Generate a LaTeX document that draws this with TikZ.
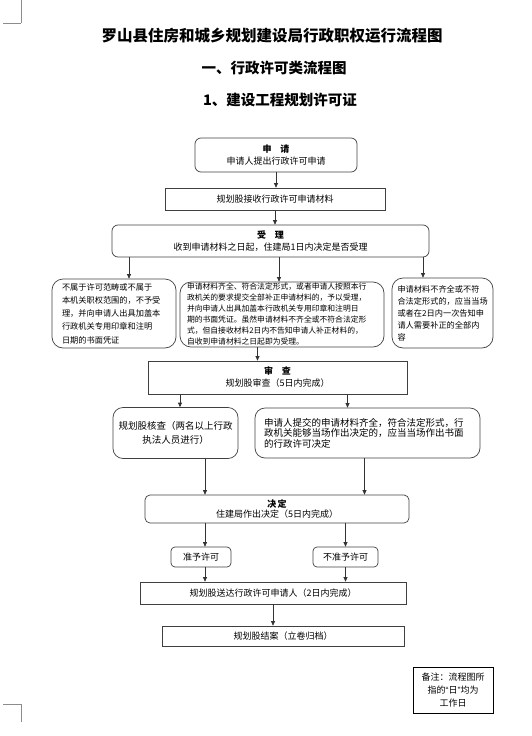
\documentclass[tikz,border=0pt]{standalone}
\usepackage{fontspec}
\setmainfont{Noto Sans CJK SC}
\newfontfamily\latinquote{Liberation Sans}
\usepackage{tikz}
\usetikzlibrary{arrows.meta,positioning}

\begin{document}
\begin{tikzpicture}[x=1pt,y=-1pt,box/.style={draw=black!75,line width=0.7pt,inner sep=0pt,align=center,
font=\fontsize{9}{12}\selectfont},rbox/.style={box,rounded corners=6pt},sbox/.style={box,rounded corners=11pt,align=left,inner sep=0pt},
arr/.style={-{Triangle[length=4.5pt,width=4pt]},line width=0.7pt,draw=black!80},
ttl/.style={font=\fontsize{15.5}{18}\selectfont\bfseries},cropmark/.style={draw=black!45,line width=0.4pt}]
\useasboundingbox (0,0) rectangle (531,736);
% page corner marks
\coordinate (tl) at (21,23);\coordinate (bl) at (21,704);
\draw[cropmark] (tl) -- ++(0,-23) (tl) -- ++(-18,0);
\draw[cropmark] (bl) -- ++(0,18) (bl) -- ++(-18,0);
% titles
\node[ttl] (title) at (272,36) {罗山县住房和城乡规划建设局行政职权运行流程图};
\node[ttl,font=\fontsize{14.5}{17}\selectfont\bfseries] (sub1) at (274,68) {一、行政许可类流程图};
\node[ttl,font=\fontsize{14.5}{17}\selectfont\bfseries] (sub2) at (280,100) {1、建设工程规划许可证};
% flow
\node[rbox,minimum width=162pt,minimum height=34pt] (apply) at (276,155) {\textbf{申\quad 请}\\申请人提出行政许可申请};
\node[box,minimum width=220pt,minimum height=22pt] (recv) at (275,199) {规划股接收行政许可申请材料};
\node[rbox,minimum width=317pt,minimum height=32pt] (accept) at (270.5,241) {\textbf{受\quad 理}\\收到申请材料之日起，住建局1日内决定是否受理};
\node[sbox,minimum width=124pt,minimum height=69pt,text width=104pt,font=\fontsize{8.2}{13.3}\selectfont] (refuse) at (114,313.5)
{不属于许可范畴或不属于\\本机关职权范围的，不予受\\理，并向申请人出具加盖本\\行政机关专用印章和注明\\日期的书面凭证};
\node[sbox,minimum width=204pt,minimum height=65pt,text width=190pt,font=\fontsize{7.8}{11}\selectfont] (admit) at (282,314.5)
{申请材料齐全、符合法定形式，或者申请人按照本行\\政机关的要求提交全部补正申请材料的，予以受理，\\并向申请人出具加盖本行政机关专用印章和注明日\\期的书面凭证。虽然申请材料不齐全或不符合法定形\\式，但自接收材料2日内不告知申请人补正材料的，\\自收到申请材料之日起即为受理。};
\node[sbox,minimum width=101pt,minimum height=70pt,text width=90pt,font=\fontsize{8.2}{12}\selectfont] (supply) at (442.5,313)
{申请材料不齐全或不符\\合法定形式的，应当当场\\或者在2日内一次告知申\\请人需要补正的全部内\\容};
\node[box,minimum width=259pt,minimum height=33pt] (review) at (277.5,377.5) {\textbf{审\quad 查}\\规划股审查（5日内完成）};
\node[rbox,rounded corners=10pt,minimum width=125pt,minimum height=51pt,text width=118pt,font=\fontsize{9.5}{14}\selectfont] (checkL) at (175.5,433)
{规划股核查（两名以上行政\\执法人员进行）};
\node[rbox,rounded corners=10pt,minimum width=225pt,minimum height=50pt,text width=207pt,align=left,font=\fontsize{9.5}{10.5}\selectfont] (checkR) at (367.5,433)
{申请人提交的申请材料齐全，符合法定形式，行\\政机关能够当场作出决定的，应当当场作出书面\\的行政许可决定\\[3pt]};
\node[rbox,rounded corners=5pt,minimum width=264pt,minimum height=28pt,font=\fontsize{9}{10.5}\selectfont] (decide) at (277,509) {\textbf{决\,定}\\住建局作出决定（5日内完成）};
\node[rbox,rounded corners=4pt,minimum width=60pt,minimum height=20pt] (grant) at (201,557) {准予许可};
\node[rbox,rounded corners=4pt,minimum width=65pt,minimum height=20pt] (deny) at (345.5,557) {不准予许可};
\node[box,minimum width=266pt,minimum height=22pt] (deliver) at (273,593) {规划股送达行政许可申请人（2日内完成）};
\node[box,minimum width=242pt,minimum height=20pt] (close) at (283,636) {规划股结案（立卷归档）};
\node[box,minimum width=80pt,minimum height=46pt,line width=0.9pt,draw=black,font=\fontsize{9}{13}\selectfont] (note) at (453,690)
{备注：流程图所\\指的{\latinquote“}日{\latinquote”}均为\\工作日};
% connectors
\draw[arr] (apply.south) -- (apply.south |- recv.north);
\draw[arr] (recv.south) -- (recv.south |- accept.north);
\draw[arr] ([xshift=15pt]refuse.north |- accept.south) -- ([xshift=15pt]refuse.north);
\draw[arr] ([xshift=-3pt]admit.north |- accept.south) -- ([xshift=-3pt]admit.north);
\draw[arr] ([xshift=-19.5pt]supply.north |- accept.south) -- ([xshift=-19.5pt]supply.north);
\draw[arr] ([xshift=-20pt]review.north |- admit.south) -- ([xshift=-20pt]review.north);
\draw[arr] ([xshift=4.5pt]checkL.north |- review.south) -- ([xshift=4.5pt]checkL.north);
\draw[arr] ([xshift=-20pt]checkR.north |- review.south) -- ([xshift=-20pt]checkR.north);
\draw[arr] ([xshift=29.5pt]checkL.south) -- ([xshift=29.5pt]checkL.south |- decide.north);
\draw[arr] ([xshift=-3pt]checkR.south) -- ([xshift=-3pt]checkR.south |- decide.north);
\draw[arr] ([xshift=4pt]grant.north |- decide.south) -- ([xshift=4pt]grant.north);
\draw[arr] (deny.north |- decide.south) -- (deny.north);
\draw[arr] ([xshift=4pt]grant.south) -- ([xshift=4pt]grant.south |- deliver.north);
\draw[arr] (deny.south) -- (deny.south |- deliver.north);
\draw[arr] (deliver.south) -- (deliver.south |- close.north);
\end{tikzpicture}
\end{document}
